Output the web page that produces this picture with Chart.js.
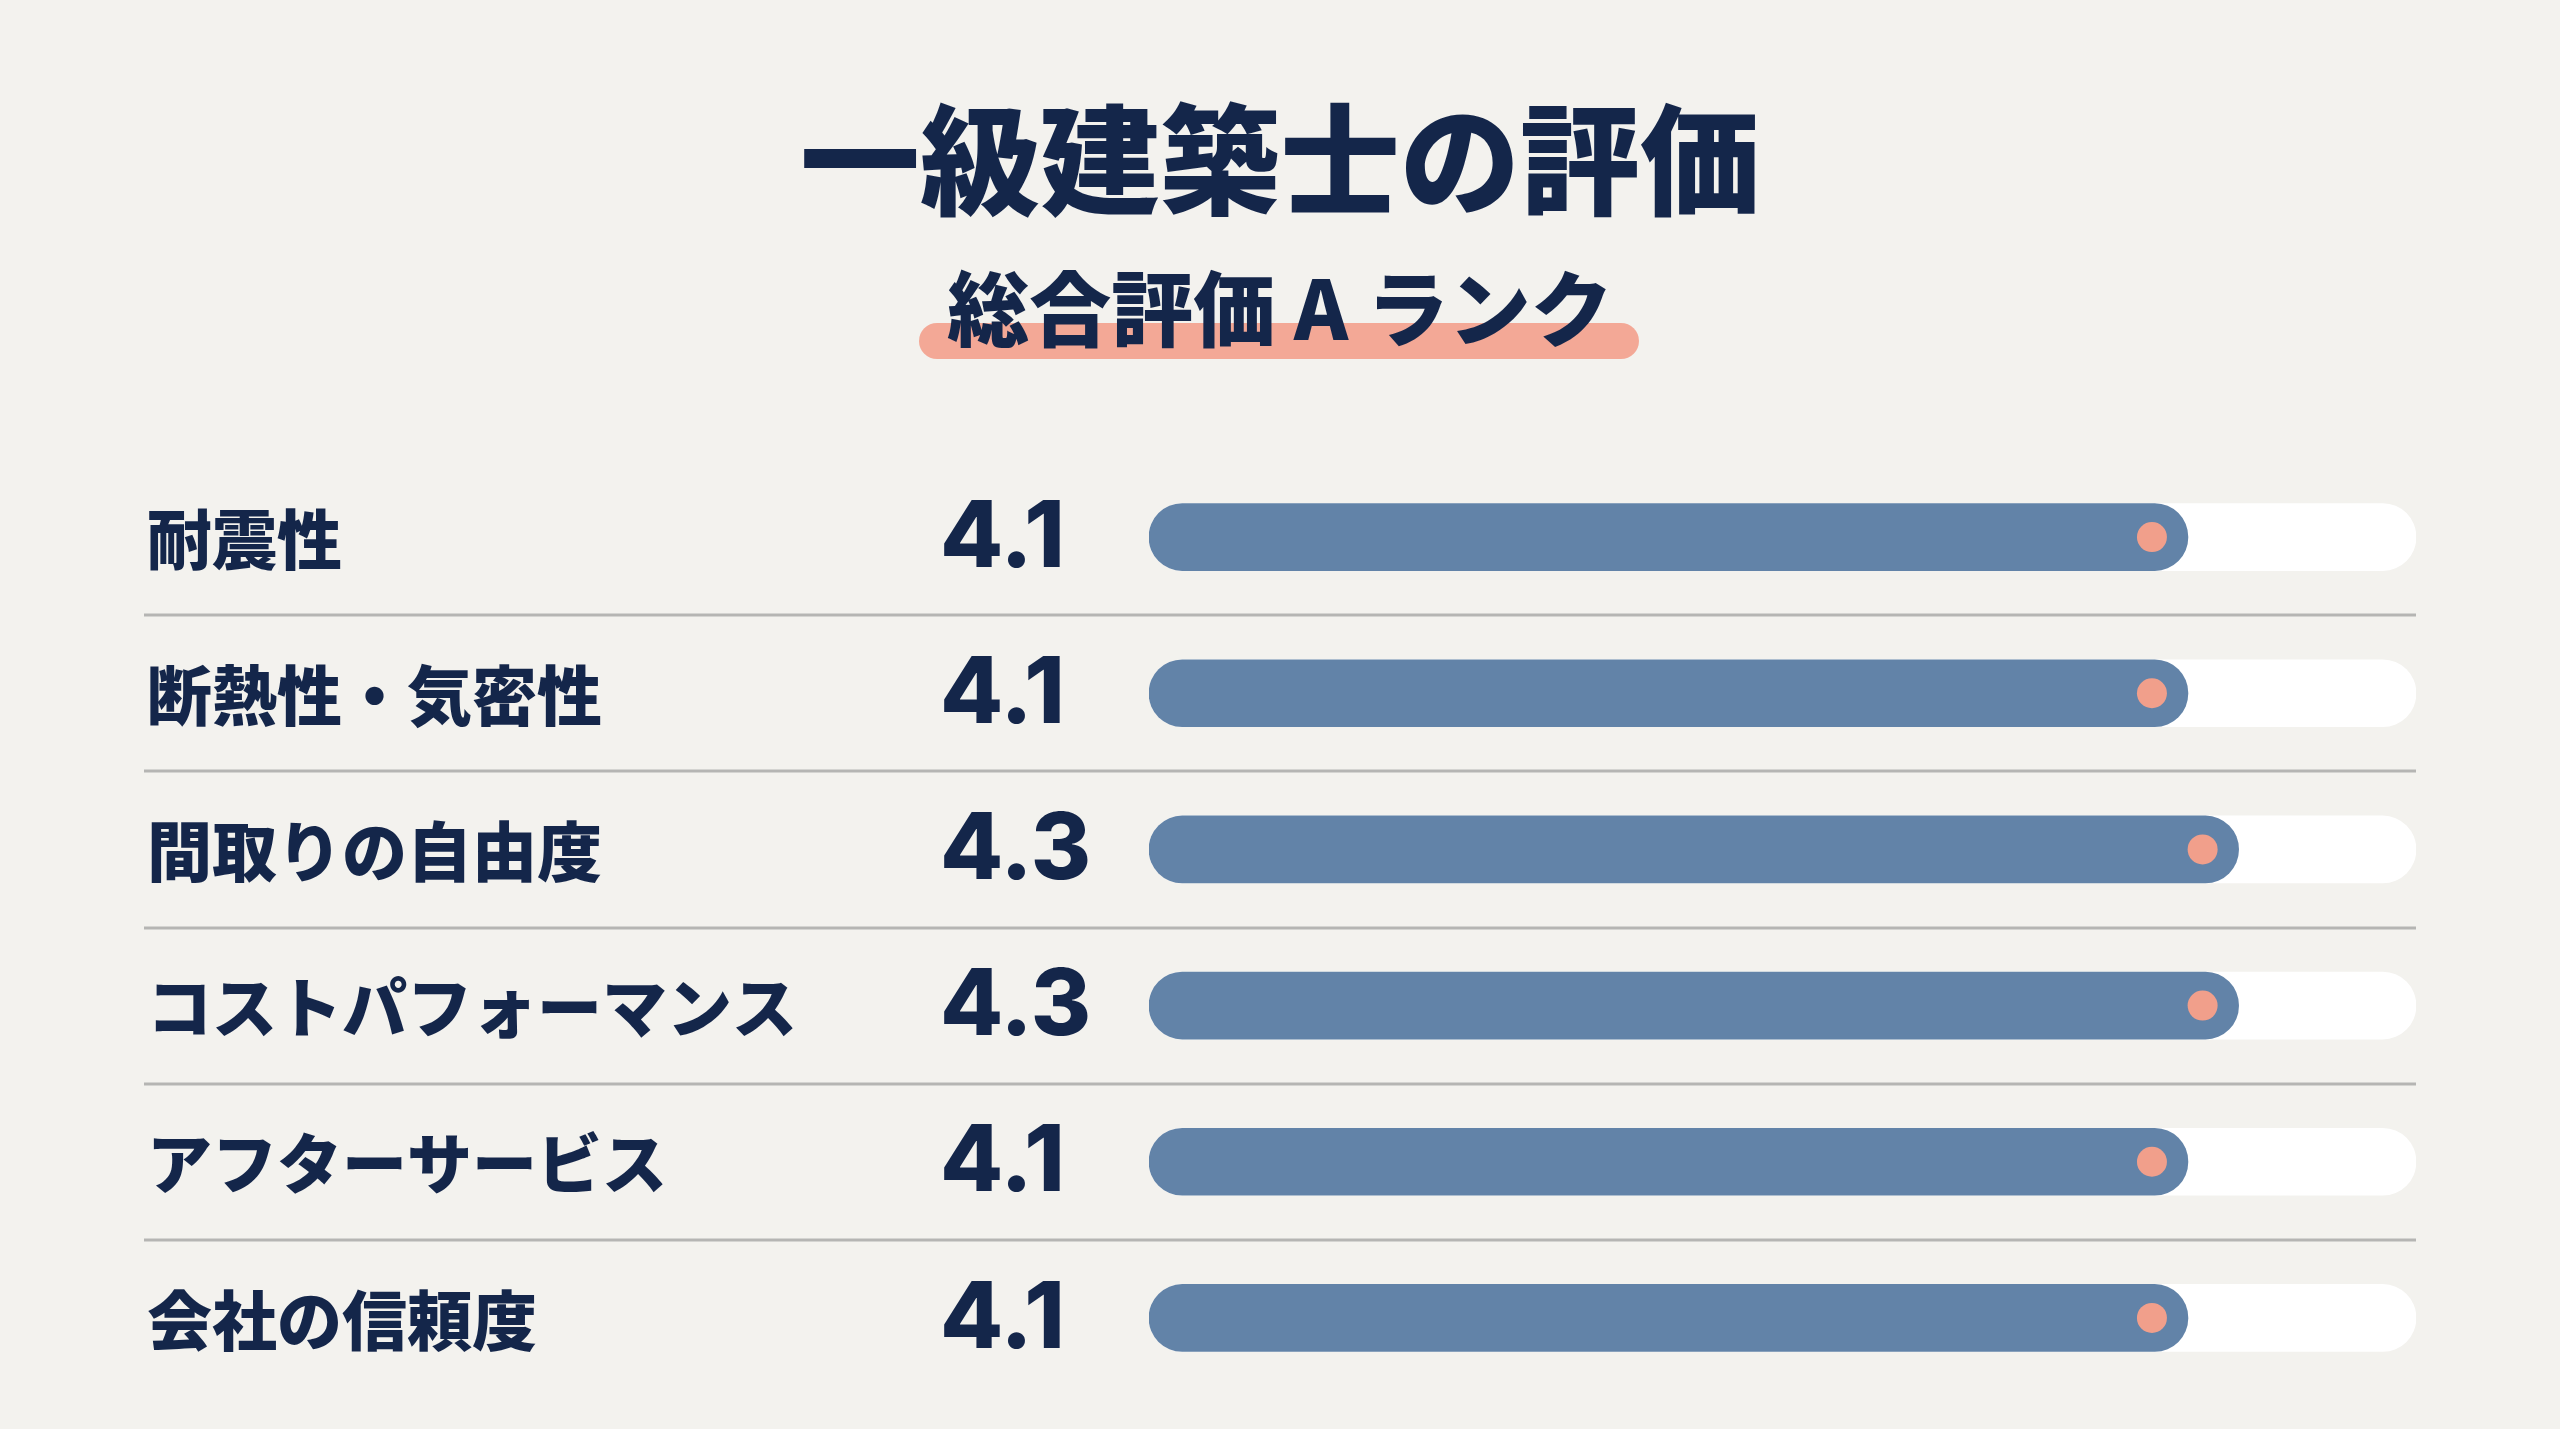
<!DOCTYPE html>
<html lang="ja">
<head>
<meta charset="utf-8">
<title>一級建築士の評価</title>
<script src="https://cdn.jsdelivr.net/npm/chart.js@4.4.1/dist/chart.umd.min.js"></script>
<style>
  html, body { margin: 0; padding: 0; background: #f3f2ee; }
  body { width: 2560px; height: 1429px; position: relative; overflow: hidden;
         font-family: "Noto Sans CJK JP", "Noto Sans", sans-serif; color: #14264a; }
  .title { position: absolute; left: 0; width: 2560px; top: 94px; height: 120px;
           line-height: 120px; text-align: center; font-size: 120px; font-weight: 900; }
  .mark { position: absolute; left: 919px; top: 323px; width: 720px; height: 36px;
          border-radius: 18px; background: #f3a896; }
  .sub { position: absolute; left: 0; width: 2560px; top: 264px; height: 82px;
         line-height: 82px; text-align: center; font-size: 82px; font-weight: 900; }
  #wrap { position: absolute; left: 0; top: 0; width: 2560px; height: 1429px; }
</style>
</head>
<body>
<div class="title">一級建築士の評価</div>
<div class="mark"></div>
<div class="sub">総合評価 A ランク</div>
<div id="wrap"><canvas id="scoreChart"></canvas></div>
<script>
const categories = ['耐震性', '断熱性・気密性', '間取りの自由度', 'コストパフォーマンス', 'アフターサービス', '会社の信頼度'];
const scores = [4.1, 4.1, 4.3, 4.3, 4.1, 4.1];
const maxScore = 5;
const trackValues = [5, 5, 5, 5, 5, 5];

const navy = '#14264a';

// labels, scores, separators and end dots
const rowDecor = {
  id: 'rowDecor',
  afterDatasetsDraw(chart) {
    const ctx = chart.ctx;
    const y = chart.scales.y;
    const bars = chart.getDatasetMeta(0).data;
    ctx.save();

    // separators between rows
    ctx.strokeStyle = '#b5b5b3';
    ctx.lineWidth = 3;
    for (let i = 0; i < categories.length - 1; i++) {
      const yy = Math.round((y.getPixelForValue(i) + y.getPixelForValue(i + 1)) / 2);
      ctx.beginPath();
      ctx.moveTo(144, yy);
      ctx.lineTo(chart.chartArea.right, yy);
      ctx.stroke();
    }

    // dots near the end of each bar
    ctx.fillStyle = '#f19f8b';
    bars.forEach(bar => {
      ctx.beginPath();
      ctx.arc(bar.x - 36, bar.y, 15, 0, Math.PI * 2);
      ctx.fill();
    });

    ctx.fillStyle = navy;
    ctx.textBaseline = 'middle';
    ctx.textAlign = 'left';
    categories.forEach((c, i) => {
      const yy = y.getPixelForValue(i);
      ctx.font = '900 65px "Noto Sans CJK JP"';
      ctx.fillText(c, 147, yy + 2);
      ctx.font = '800 92px Inter';
      ctx.fillText(scores[i].toFixed(1), 940, yy + 2);
    });
    ctx.restore();
  }
};

const ctx = document.getElementById('scoreChart').getContext('2d');
const chart = new Chart(ctx, {
  type: 'bar',
  data: {
    labels: categories,
    datasets: [
      {
        data: scores,
        backgroundColor: '#6283a8',
        barThickness: 67,
        borderRadius: 34,
        borderSkipped: false,
        grouped: false,
      },
      {
        data: trackValues,
        backgroundColor: '#ffffff',
        barThickness: 67,
        borderRadius: 34,
        borderSkipped: false,
        grouped: false,
      },
    ],
  },
  options: {
    indexAxis: 'y',
    responsive: true,
    maintainAspectRatio: false,
    animation: false,
    layout: { padding: { left: 1149, right: 144, top: 459, bottom: 33 } },
    plugins: {
      legend: { display: false },
      tooltip: { enabled: false }
    },
    scales: {
      x: { display: false, min: 0, max: maxScore },
      y: { display: false }
    }
  },
  plugins: [rowDecor]
});
</script>
</body>
</html>
